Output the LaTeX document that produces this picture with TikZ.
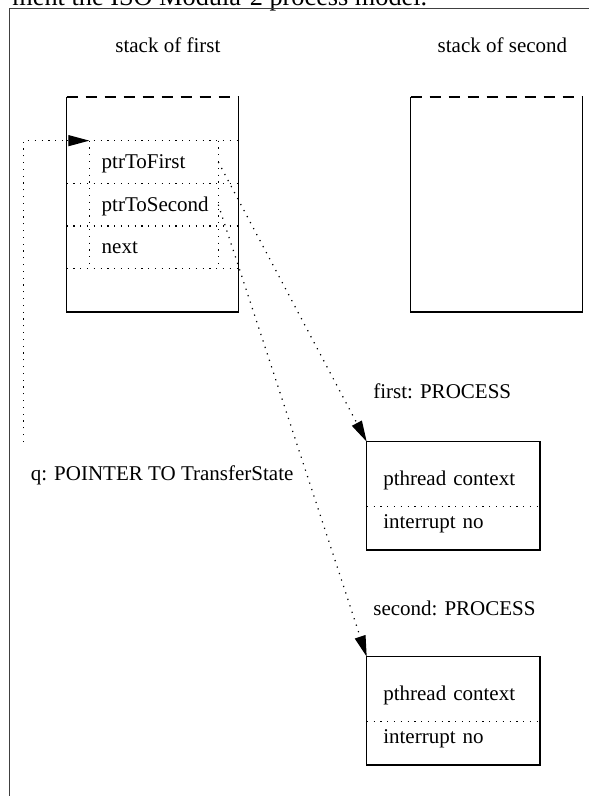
\documentclass[tikz,border=0pt]{standalone}
\usepackage{fontspec}
\setmainfont{Liberation Serif}
\usepackage{tikz}
\usetikzlibrary{positioning}
\usetikzlibrary{arrows.meta}
\tikzstyle{stackbox} = [rectangle, minimum width=86pt, minimum height=107.5pt, inner sep=0pt, outer sep=0pt]
\tikzstyle{field} = [rectangle, text width=52.1pt, inner xsep=6.2pt, minimum height=21.35pt, text height=7.5pt, text depth=1pt, align=left, outer sep=0pt]
\tikzstyle{ctxfield} = [rectangle, text width=70.05pt, inner xsep=8.3pt, minimum height=32.5pt, text height=11.3pt, text depth=0.5pt, align=left, outer sep=0pt]
\tikzstyle{irqfield} = [rectangle, text width=70.05pt, inner xsep=8.3pt, minimum height=21.65pt, text height=4pt, text depth=3.5pt, align=left, outer sep=0pt]
\tikzstyle{labeltext} = [anchor=base west, inner sep=0pt]
\tikzstyle{boxline} = [line width=0.75pt]
\tikzstyle{dotline} = [line width=0.6pt, dash pattern=on 0.6pt off 2.8pt]
\tikzstyle{ptr} = [dotline, -{Triangle[length=10.5pt,width=5.5pt]}]

\begin{document}
\begin{tikzpicture}[x=0.5pt, y=-0.5pt, node distance=0pt, font=\fontsize{10.5pt}{12.6pt}\selectfont]

\useasboundingbox (0,0) rectangle (589,796);

% page text and frame
\node (pagetext) [labeltext, font=\fontsize{13.15pt}{15pt}\selectfont] at (12,6) {ment the ISO Modula-2 process model.};
\draw [line width=0.9pt, black!75] (9.5,796) -- (9.5,8.5) -- (589,8.5);

% stacks
\node (stackfirst) [stackbox] at (152.5,204.5) {};
\node (stacksecond) [stackbox] at (496.7,204.5) {};
\node (stackfirstlbl) [labeltext] at (115,53) {stack of first};
\node (stacksecondlbl) [labeltext] at (437.3,53) {stack of second};
\foreach \s in {stackfirst, stacksecond} {
  \draw [boxline] (\s.north west) -- (\s.south west) -- (\s.south east) -- (\s.north east);
  \draw [boxline, dash pattern=on 5.85pt off 3.65pt] (\s.north west) -- (\s.north east);
}

% TransferState record
\node (first) [field] at (153.8,162) {ptrToFirst};
\node (second) [field, below=of first] {ptrToSecond};
\node (next) [field, below=of second] {next};
\foreach \r/\a in {first/north, first/south, second/south, next/south}
  \draw [dotline] (stackfirst.west |- \r.\a) -- (stackfirst.east |- \r.\a);
\draw [dotline] (first.north west) -- (next.south west);
\draw [dotline] (first.north east) -- (next.south east);

% processes
\node (ctxA) [ctxfield, anchor=north west] at (366.7,441.7) {pthread context};
\node (irqA) [irqfield, below=of ctxA] {interrupt no};
\draw [boxline] (ctxA.north west) rectangle (irqA.south east);
\draw [dotline] (ctxA.south west) -- (ctxA.south east);
\node (ctxB) [ctxfield, anchor=north west] at (366.7,656.7) {pthread context};
\node (irqB) [irqfield, below=of ctxB] {interrupt no};
\draw [boxline] (ctxB.north west) rectangle (irqB.south east);
\draw [dotline] (ctxB.south west) -- (ctxB.south east);
\node (firstlbl) [labeltext] at (373,398) {first: PROCESS};
\node (secondlbl) [labeltext] at (373,615) {second: PROCESS};

% pointers
\coordinate (qtail) at (23.3,442);
\node (qlbl) [labeltext] at (30.5,480) {q: POINTER TO TransferState};
\draw [ptr] (qtail) |- (first.north west);
\draw [ptr] (first.east) -- (ctxA.north west);
\draw [ptr] (second.east) -- (ctxB.north west);

\end{tikzpicture}
\end{document}
